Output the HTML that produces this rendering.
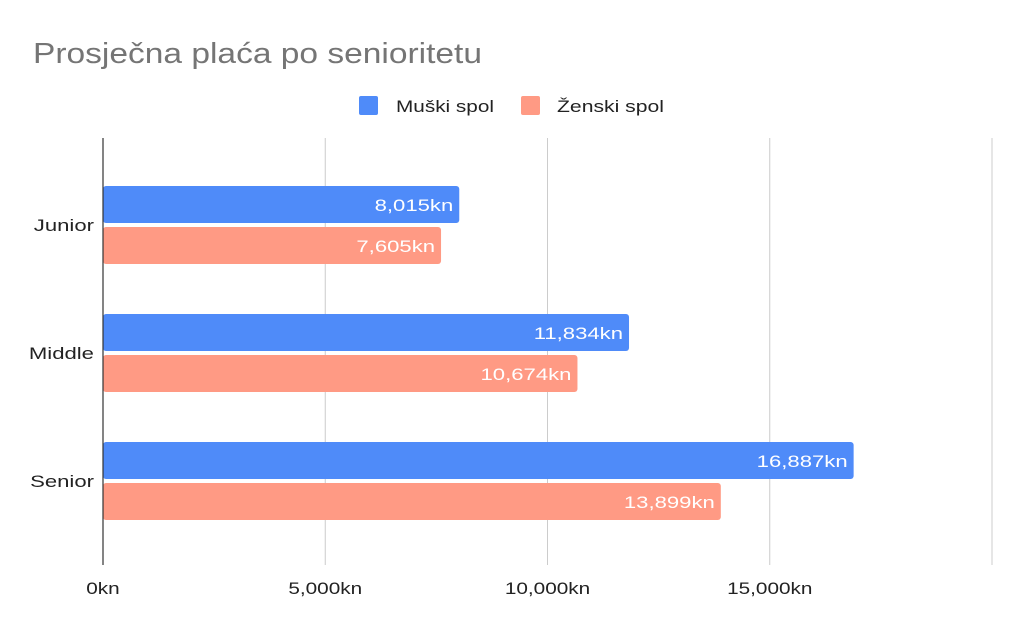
<!DOCTYPE html>
<html><head><meta charset="utf-8"><style>
body{margin:0;background:#fff;width:1024px;height:633px;overflow:hidden;font-family:"Liberation Sans",sans-serif}
</style></head><body>
<svg width="1024" height="633">
<text x="33" y="63" font-size="29" fill="#757575" textLength="449" lengthAdjust="spacingAndGlyphs">Prosječna plaća po senioritetu</text>
<rect x="359" y="96" width="19" height="19" rx="2" fill="#4f8bf9"/>
<text x="396" y="112" font-size="17" fill="#222" textLength="98" lengthAdjust="spacingAndGlyphs">Muški spol</text>
<rect x="521" y="96" width="19" height="19" rx="2" fill="#ff9a84"/>
<text x="557" y="112" font-size="17" fill="#222" textLength="107" lengthAdjust="spacingAndGlyphs">Ženski spol</text>
<g id="grid"></g><g id="bars"></g><g id="labels"></g>
<line x1="103" y1="138" x2="103" y2="565" stroke="#333" stroke-width="1.2"/>
</svg>
<script>
const categories=["Junior","Middle","Senior"];
const male=[8015,11834,16887];
const female=[7605,10674,13899];
const ticks=[0,5000,10000,15000,20000];
const tickLabels=["0kn","5,000kn","10,000kn","15,000kn",""];
const NS="http://www.w3.org/2000/svg";
const x=v=>103+v*(992-103)/20000;
const bandY=i=>186+i*128;
function mk(t,a,p){const e=document.createElementNS(NS,t);for(const k in a)e.setAttribute(k,a[k]);p.appendChild(e);return e;}
function widen(t,f){const w=t.getComputedTextLength();if(w>0){t.setAttribute("textLength",w*f);t.setAttribute("lengthAdjust","spacingAndGlyphs");}}
const fmt=v=>v.toLocaleString("en-US")+"kn";
const g=document.getElementById("grid"),b=document.getElementById("bars"),l=document.getElementById("labels");
ticks.forEach((t,i)=>{
 if(t>0){const ln=mk("line",{x1:x(t),x2:x(t),y1:138,y2:565,stroke:"#ccc","stroke-width":1},g);
 
 }
 const tx=mk("text",{x:x(t),y:594,"font-size":17,fill:"#222","text-anchor":"middle"},g);tx.textContent=tickLabels[i];
 
 
 widen(tx,1.22);
});
categories.forEach((c,i)=>{
 const y=bandY(i);
 const ct=mk("text",{x:94,y:y+45,"font-size":17,fill:"#222","text-anchor":"end"},l);ct.textContent=c;
 
 
 widen(ct,1.3);
 [[male[i],"#4f8bf9",0,"male"],[female[i],"#ff9a84",41,"female"]].forEach(([v,col,off,s])=>{
  const r=mk("rect",{x:103,y:y+off,width:x(v)-103,height:37,rx:3,fill:col},b);
  
  
  const t=mk("text",{x:x(v)-6,y:y+off+25,"font-size":17,fill:"#fff","text-anchor":"end"},l);t.textContent=fmt(v);
  
  
  widen(t,1.3);
 });
});
</script>
</body></html>
